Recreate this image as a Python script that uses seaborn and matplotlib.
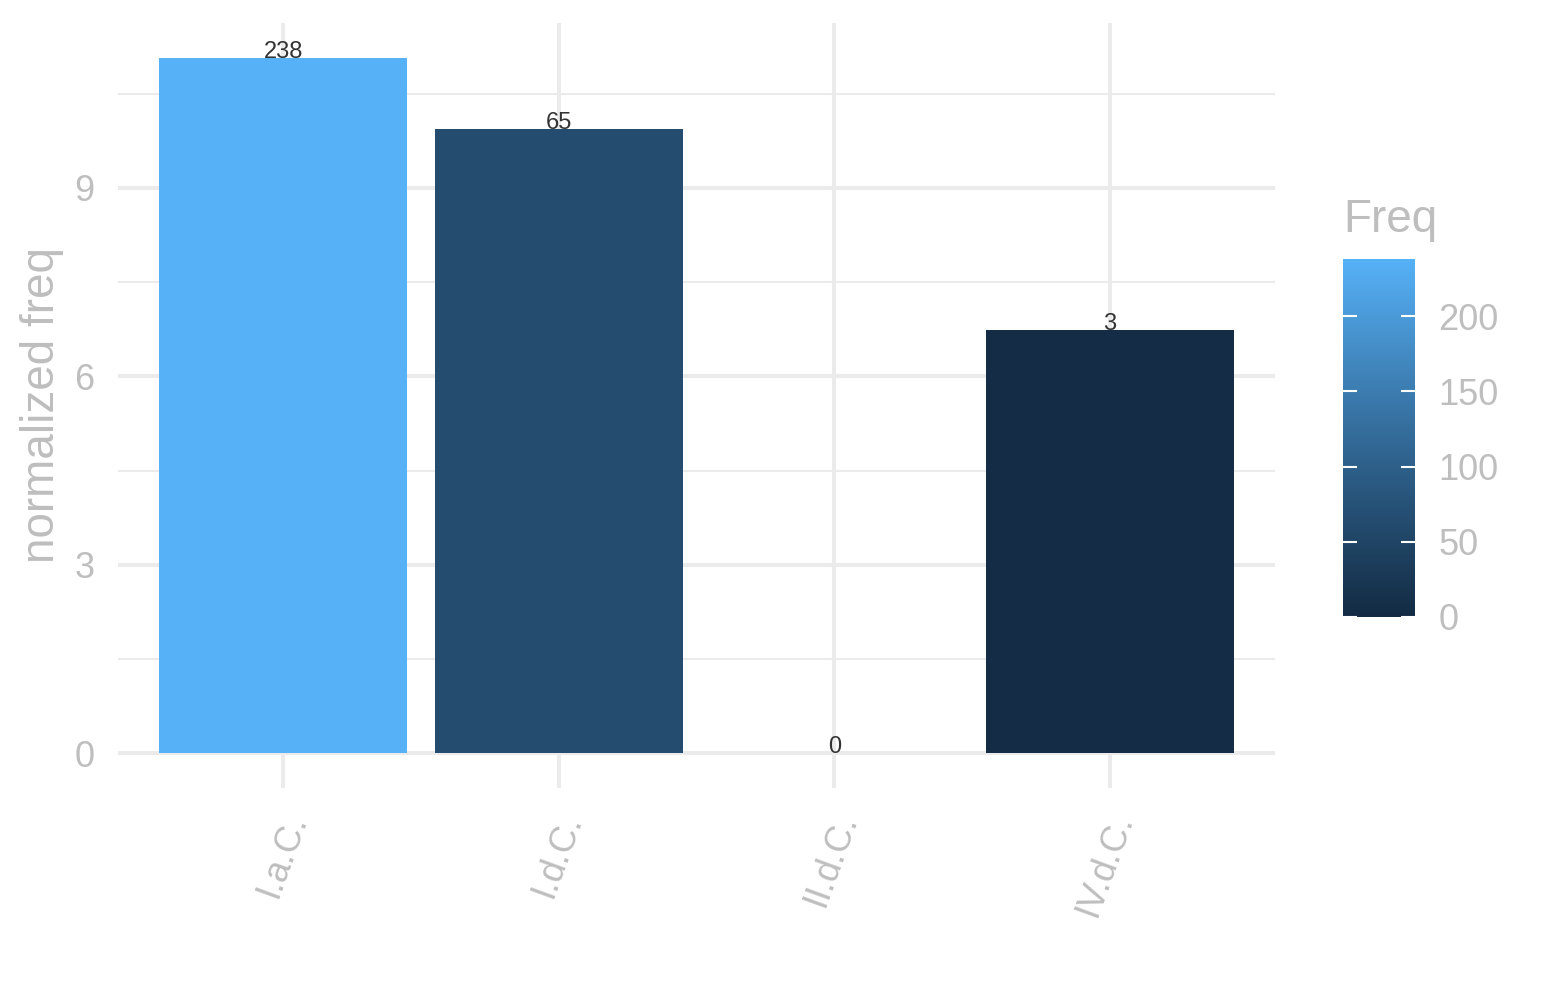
import numpy as np
import pandas as pd
import matplotlib
matplotlib.use("Agg")
import matplotlib.pyplot as plt
import seaborn as sns
import matplotlib.transforms as mtransforms
from matplotlib.colors import ListedColormap, Normalize
from matplotlib.cm import ScalarMappable
from matplotlib.ticker import MultipleLocator

# ---- data ----
categories = ["I.a.C.", "I.d.C.", "II.d.C.", "IV.d.C."]
norm_freq = [11.07, 9.94, 0.0, 6.74]
freq = [238, 65, 0, 3]
cbar_ticks = [0, 50, 100, 150, 200]

# ---- ggplot-like gradient (Lab interpolation) ----
def srgb_to_lab(rgb):
    rgb = np.asarray(rgb, float)
    lin = np.where(rgb <= 0.04045, rgb / 12.92, ((rgb + 0.055) / 1.055) ** 2.4)
    M = np.array([[0.4124564, 0.3575761, 0.1804375],
                  [0.2126729, 0.7151522, 0.0721750],
                  [0.0193339, 0.1191920, 0.9503041]])
    xyz = lin @ M.T
    wp = np.array([0.95047, 1.0, 1.08883])
    t = xyz / wp
    d = 6 / 29
    f = np.where(t > d ** 3, np.cbrt(t), t / (3 * d * d) + 4 / 29)
    L = 116 * f[..., 1] - 16
    a = 500 * (f[..., 0] - f[..., 1])
    b = 200 * (f[..., 1] - f[..., 2])
    return np.stack([L, a, b], -1)

def lab_to_srgb(lab):
    lab = np.asarray(lab, float)
    fy = (lab[..., 0] + 16) / 116
    fx = fy + lab[..., 1] / 500
    fz = fy - lab[..., 2] / 200
    d = 6 / 29
    def finv(f):
        return np.where(f > d, f ** 3, 3 * d * d * (f - 4 / 29))
    wp = np.array([0.95047, 1.0, 1.08883])
    xyz = np.stack([finv(fx), finv(fy), finv(fz)], -1) * wp
    Minv = np.array([[3.2404542, -1.5371385, -0.4985314],
                     [-0.9692660, 1.8760108, 0.0415560],
                     [0.0556434, -0.2040259, 1.0572252]])
    lin = xyz @ Minv.T
    lin = np.clip(lin, 0, 1)
    rgb = np.where(lin <= 0.0031308, 12.92 * lin, 1.055 * lin ** (1 / 2.4) - 0.055)
    return np.clip(rgb, 0, 1)

low = np.array([0x13, 0x2B, 0x43]) / 255
high = np.array([0x56, 0xB1, 0xF7]) / 255
lab_lo, lab_hi = srgb_to_lab(low), srgb_to_lab(high)
tt = np.linspace(0, 1, 256)[:, None]
cmap = ListedColormap(lab_to_srgb(lab_lo + (lab_hi - lab_lo) * tt))
norm = Normalize(vmin=min(freq), vmax=max(freq))
bar_colors = [cmap(norm(f)) for f in freq]

# ---- figure ----
FONT = "Liberation Sans"
GREY = "#BEBEBE"
plt.rcParams["font.family"] = [FONT, "DejaVu Sans"]

fig = plt.figure(figsize=(15.45, 10), dpi=100)
ax = fig.add_axes([118 / 1545, 212 / 1000, (1275 - 118) / 1545, (788 - 23) / 1000])

df = pd.DataFrame({"cat": categories, "val": norm_freq})
sns.barplot(data=df, x="cat", y="val", hue="cat", palette=bar_colors,
            order=categories, hue_order=categories, width=0.9, legend=False,
            saturation=1, ax=ax, zorder=3)

for i, (v, f) in enumerate(zip(norm_freq, freq)):
    ax.text(i, v, str(f), ha="center", va="baseline", fontsize=17,
            color="#333333", zorder=5)

ymax = max(norm_freq)
ax.set_xlim(-0.6, len(categories) - 1 + 0.6)
ax.set_ylim(-0.05 * ymax, 1.05 * ymax)
ax.yaxis.set_major_locator(MultipleLocator(3))
ax.yaxis.set_minor_locator(MultipleLocator(1.5))
ax.grid(which="major", axis="both", color="#EBEBEB", linewidth=2.9, zorder=0)
ax.grid(which="minor", axis="y", color="#EBEBEB", linewidth=1.45, zorder=0)
ax.set_axisbelow(True)
for s in ax.spines.values():
    s.set_visible(False)
ax.tick_params(axis="both", which="both", length=0)
ax.tick_params(axis="y", labelsize=26, labelcolor=GREY, pad=17)
ax.tick_params(axis="x", labelsize=26, labelcolor=GREY, pad=15)
shift = mtransforms.ScaledTranslation(-3 / 100, 0, fig.dpi_scale_trans)
for lab in ax.get_xticklabels():
    lab.set_rotation(70)
    lab.set_ha("right")
    lab.set_va("top")
    lab.set_rotation_mode("anchor")
    lab.set_transform(lab.get_transform() + shift)
ax.set_xlabel("")
ax.set_ylabel("")
fig.text(42 / 1545, 1 - 405 / 1000, "normalized freq", rotation=90,
         ha="center", va="center", fontsize=33, color=GREY)

# ---- colorbar ----
cax = fig.add_axes([1343 / 1545, 1 - 617 / 1000, 72 / 1545, 358 / 1000])
sm = ScalarMappable(norm=norm, cmap=cmap)
cb = fig.colorbar(sm, cax=cax, ticks=cbar_ticks)
cb.outline.set_visible(False)
cax.yaxis.set_ticks_position("both")
cax.tick_params(axis="y", direction="in", length=10, width=1.5, color="white",
                labelsize=26, labelcolor=GREY, pad=17, left=True, right=True,
                labelleft=False, labelright=True)
fig.text(1343 / 1545, 1 - 232 / 1000, "Freq", ha="left", va="baseline",
         fontsize=33, color=GREY)

fig.savefig("out.png", dpi=100, facecolor="white")
